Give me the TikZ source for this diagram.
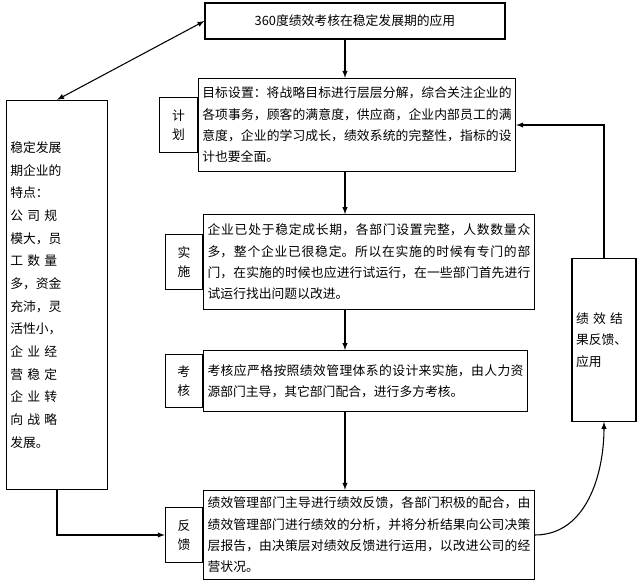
\documentclass[tikz,border=0pt]{standalone}
\usepackage{fontspec}
\newfontfamily\cjk{Noto Sans CJK SC}
\XeTeXlinebreaklocale "zh"
\XeTeXlinebreakskip=0pt plus 1pt
\usetikzlibrary{arrows,calc}
\tikzset{
  box/.style={draw,thick,align=justify,font=\cjk\fontsize{9.6}{16}\selectfont,inner sep=3pt},
  tag/.style={draw,thick,font=\cjk\fontsize{9.6}{12}\selectfont,align=center},
  conn/.style={thick,-latex}
}
\begin{document}
\begin{tikzpicture}[x=0.75pt,y=-0.75pt]
\useasboundingbox (0,0) rectangle (640,588);
% boxes
\node[tag,minimum width=225pt,minimum height=27pt] (top) at (355,21) {360度绩效考核在稳定发展期的应用};
\node[box,text width=232pt,minimum height=70pt] (plan) at (357,125) {目标设置：将战略目标进行层层分解，综合关注企业的各项事务，顾客的满意度，供应商，企业内部员工的满意度，企业的学习成长，绩效系统的完整性，指标的设计也要全面。};
\node[box,text width=242pt,minimum height=71pt] (impl) at (369,262) {企业已处于稳定成长期，各部门设置完整，人数数量众多，整个企业已很稳定。所以在实施的时候有专门的部门，在实施的时候也应进行试运行，在一些部门首先进行试运行找出问题以改进。};
\node[box,text width=237pt,minimum height=46pt,anchor=north west] (eval) at (203,350) {考核应严格按照绩效管理体系的设计来实施，由人力资源部门主导，其它部门配合，进行多方考核。};
\node[box,text width=242pt,minimum height=67pt] (fb) at (369,535) {绩效管理部门主导进行绩效反馈，各部门积极的配合，由绩效管理部门进行绩效的分析，并将分析结果向公司决策层报告，由决策层对绩效反馈进行运用，以改进公司的经营状况。};
\node[tag,minimum width=28pt,minimum height=41pt,anchor=east] (tplan) at (plan.west) {计\\[2pt]划};
\node[tag,minimum width=28pt,minimum height=41pt,anchor=east] (timpl) at (impl.west) {实\\[2pt]施};
\node[tag,minimum width=28pt,minimum height=40pt,anchor=east] (teval) at (eval.west) {考\\[2pt]核};
\node[tag,minimum width=28pt,minimum height=41pt,anchor=east] (tfb) at (fb.west) {反\\[2pt]馈};
\node[box,text width=70pt,minimum height=292pt,align=left,font=\cjk\fontsize{9.6}{17}\selectfont] (left) at (57,295) {稳定发展\\期企业的\\特点：\\公 司 规\\模大，员\\工 数 量\\多，资金\\充沛，灵\\活性小，\\企 业 经\\营 稳 定\\企 业 转\\向 战 略\\发展。};
\node[box,text width=42pt,minimum height=122pt,align=left] (res) at (604,340) {绩 效 结\\果反馈、\\应用};
% connectors
\draw[conn] (top.south -| 345,0) -- (plan.north -| 345,0);
\draw[conn] (plan.south -| 345,0) -- (impl.north -| 345,0);
\draw[conn] (impl.south -| 345,0) -- (eval.north -| 345,0);
\draw[conn] (eval.south -| 345,0) -- (fb.north -| 345,0);
\draw[thick,latex-latex] (top.west) -- (left.north);
\draw[conn] (left.south) |- (tfb.west);
\draw[conn] (fb.east) to[out=0,in=-90] (res.south);
\draw[conn] (res.north) |- (plan.east);
\end{tikzpicture}
\end{document}
